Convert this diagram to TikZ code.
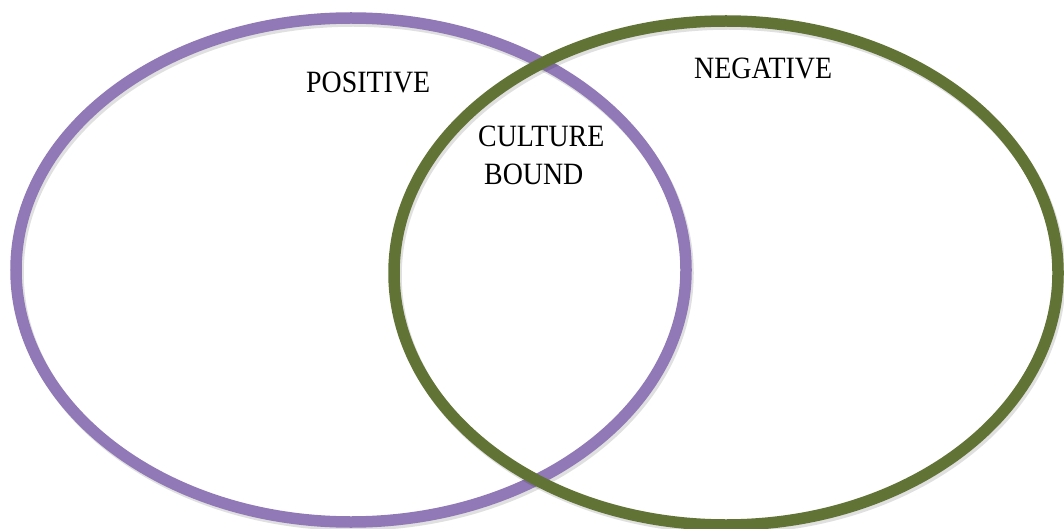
\documentclass[tikz,border=0pt]{standalone}
\usepackage{fontspec}
\setmainfont{Liberation Serif}
\newfontfamily\lblfont[FakeStretch=0.9]{Liberation Serif}
\definecolor{vpurple}{HTML}{9079B6}
\definecolor{vgreen}{HTML}{617435}
\begin{document}
\begin{tikzpicture}[x=1pt,y=-1pt,
  ring/.style={line width=11.5pt},
  shadowring/.style={line width=11.5pt, draw=black, opacity=0.12},
  lbl/.style={font=\lblfont\fontsize{31}{38}\selectfont, inner sep=0pt, anchor=base west, align=left}]
\useasboundingbox (0,0) rectangle (1064,529);
\fill[white] (0,0) rectangle (1064,529);
\draw[shadowring] (353,273) ellipse [x radius=335, y radius=252];
\draw[ring, draw=vpurple] (351,270) ellipse [x radius=335, y radius=252];
\draw[shadowring] (728,276) ellipse [x radius=332, y radius=252];
\draw[ring, draw=vgreen] (726,273) ellipse [x radius=332, y radius=252];
\node[lbl] (pos) at (306,93) {POSITIVE};
\node[lbl] (neg) at (694,79) {NEGATIVE};
\node[lbl] (cb) at (478,185) {CULTURE\\\hspace{6pt}BOUND};
\end{tikzpicture}
\end{document}
